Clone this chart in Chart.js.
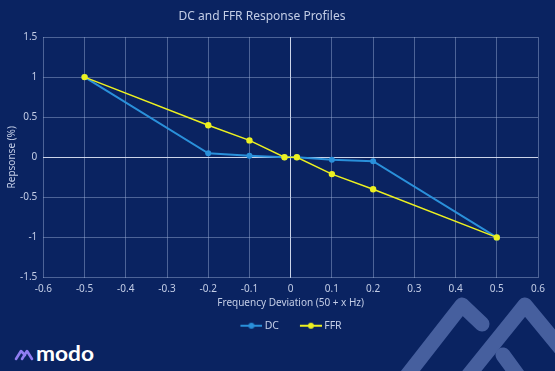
<!DOCTYPE html>
<html>
<head>
<meta charset="utf-8">
<script src="https://cdn.jsdelivr.net/npm/chart.js@4"></script>
<style>
  html, body { margin: 0; padding: 0; background: #0a2361; }
  #wrap { position: relative; width: 555px; height: 371px; overflow: hidden; }
  #myChart { position: absolute; left: 0; top: 0; }
  #deco { position: absolute; left: 0; top: 0; pointer-events: none; }
</style>
</head>
<body>
<div id="wrap">
  <svg id="deco" width="555" height="371">
    <!-- watermark -->
    <g fill="none" stroke="#465f9e" stroke-width="15" stroke-linecap="round" stroke-linejoin="round">
      <polyline points="398,387 462,305 482,324"/>
      <polyline points="459,387 525,305 572,362"/>
      <polyline points="503,355 522,381"/>
    </g>
    <!-- logo -->
    <g fill="none" stroke="#8f7df2" stroke-width="2.6" stroke-linecap="round" stroke-linejoin="round">
      <polyline points="16,359 21,351 25,355"/>
      <polyline points="22,359 27,351 32,359"/>
    </g>
    <text x="36" y="361" fill="#ffffff" font-family="Lato, 'Noto Sans', sans-serif" font-weight="bold" font-size="21" textLength="58" lengthAdjust="spacingAndGlyphs">modo</text>
  </svg>
  <canvas id="myChart" width="555" height="371"></canvas>
</div>
<script>
// chart data
const dcX = [-0.5, -0.2, -0.1, -0.015, 0.015, 0.1, 0.2, 0.5];
const dcY = [1, 0.05, 0.02, 0, 0, -0.03, -0.05, -1];
const ffrX = [-0.5, -0.2, -0.1, -0.015, 0.015, 0.1, 0.2, 0.5];
const ffrY = [1, 0.4, 0.21, 0, 0, -0.21, -0.4, -1];
const seriesNames = ['DC', 'FFR'];
const seriesColors = ['#2a90da', '#ecf020'];
const chartTitle = 'DC and FFR Response Profiles';

const textColor = '#c3cde6';
const gridColor = 'rgba(160, 178, 218, 0.45)';
const zeroColor = 'rgba(225, 232, 248, 0.9)';
const fontFamily = "'Noto Sans', 'Open Sans', sans-serif";

function pts(xs, ys) {
    return xs.map((x, i) => ({ x: x, y: ys[i] }));
}

// line-with-dot swatch for the legend (left part left empty as spacing)
function swatch(color) {
    const c = document.createElement('canvas');
    c.width = 35; c.height = 8;
    const g = c.getContext('2d');
    g.strokeStyle = color;
    g.lineWidth = 2;
    g.beginPath(); g.moveTo(13, 4); g.lineTo(35, 4); g.stroke();
    g.fillStyle = color;
    g.beginPath(); g.arc(24, 4, 3, 0, Math.PI * 2); g.fill();
    return c;
}

// title sits a bit left of the plot centre in the original
const titlePlugin = {
    id: 'offTitle',
    afterLayout(chart) {
        // legend in the original is a little right of centre
        chart.legend.left += 14;
        chart.legend.right += 14;
    },
    afterDraw(chart) {
        const c = chart.ctx;
        c.save();
        c.fillStyle = textColor;
        c.font = '12px ' + fontFamily;
        c.textAlign = 'center';
        c.textBaseline = 'middle';
        c.fillText(chartTitle, 262, 17);
        c.restore();
    }
};

const zeroOr = c => c.tick && Math.abs(c.tick.value) < 1e-9 ? zeroColor : gridColor;

const ctx = document.getElementById('myChart').getContext('2d');
new Chart(ctx, {
    type: 'scatter',
    data: {
        datasets: [{
            label: seriesNames[0],
            data: pts(dcX, dcY),
            showLine: true,
            order: 1,
            borderColor: seriesColors[0],
            backgroundColor: seriesColors[0],
            borderWidth: 2,
            pointRadius: 3,
            pointBorderWidth: 0,
            pointHoverRadius: 3
        }, {
            label: seriesNames[1],
            data: pts(ffrX, ffrY),
            showLine: true,
            order: 0,
            borderColor: seriesColors[1],
            backgroundColor: seriesColors[1],
            borderWidth: 1.5,
            pointRadius: 3.2,
            pointBorderWidth: 0,
            pointHoverRadius: 3
        }]
    },
    plugins: [titlePlugin],
    options: {
        responsive: false,
        animation: false,
        layout: { padding: { left: 6, right: 17, top: 37, bottom: 30 } },
        scales: {
            x: {
                type: 'linear',
                min: -0.6,
                max: 0.6,
                ticks: { stepSize: 0.1, color: textColor, font: { family: fontFamily, size: 10 }, padding: 6,
                    callback: v => Math.round(v * 10) / 10 },
                grid: { color: zeroOr, drawTicks: false, lineWidth: 1 },
                border: { display: false },
                title: { display: true, text: 'Frequency Deviation (50 + x Hz)', color: textColor,
                    font: { family: fontFamily, size: 10 }, padding: { top: -4, bottom: 0 } }
            },
            y: {
                min: -1.5,
                max: 1.5,
                ticks: { stepSize: 0.5, color: textColor, font: { family: fontFamily, size: 10 }, padding: 6,
                    callback: v => Math.round(v * 10) / 10 },
                grid: { color: zeroOr, drawTicks: false, lineWidth: 1 },
                border: { display: false },
                title: { display: true, text: 'Repsonse (%)', color: textColor,
                    font: { family: fontFamily, size: 10 }, padding: { top: 0, bottom: -4 } }
            }
        },
        plugins: {
            title: { display: false },
            legend: {
                display: true,
                position: 'bottom',
                labels: {
                    color: textColor,
                    font: { family: fontFamily, size: 10.5 },
                    usePointStyle: true,
                    pointStyleWidth: 29,
                    padding: 11,
                    generateLabels: chart => chart.data.datasets.map((ds, i) => ({
                        text: ds.label,
                        fontColor: textColor,
                        pointStyle: swatch(seriesColors[i]),
                        strokeStyle: seriesColors[i],
                        fillStyle: seriesColors[i],
                        lineWidth: 0,
                        hidden: false,
                        datasetIndex: i
                    }))
                }
            },
            tooltip: { enabled: false }
        }
    }
});
</script>
</body>
</html>
